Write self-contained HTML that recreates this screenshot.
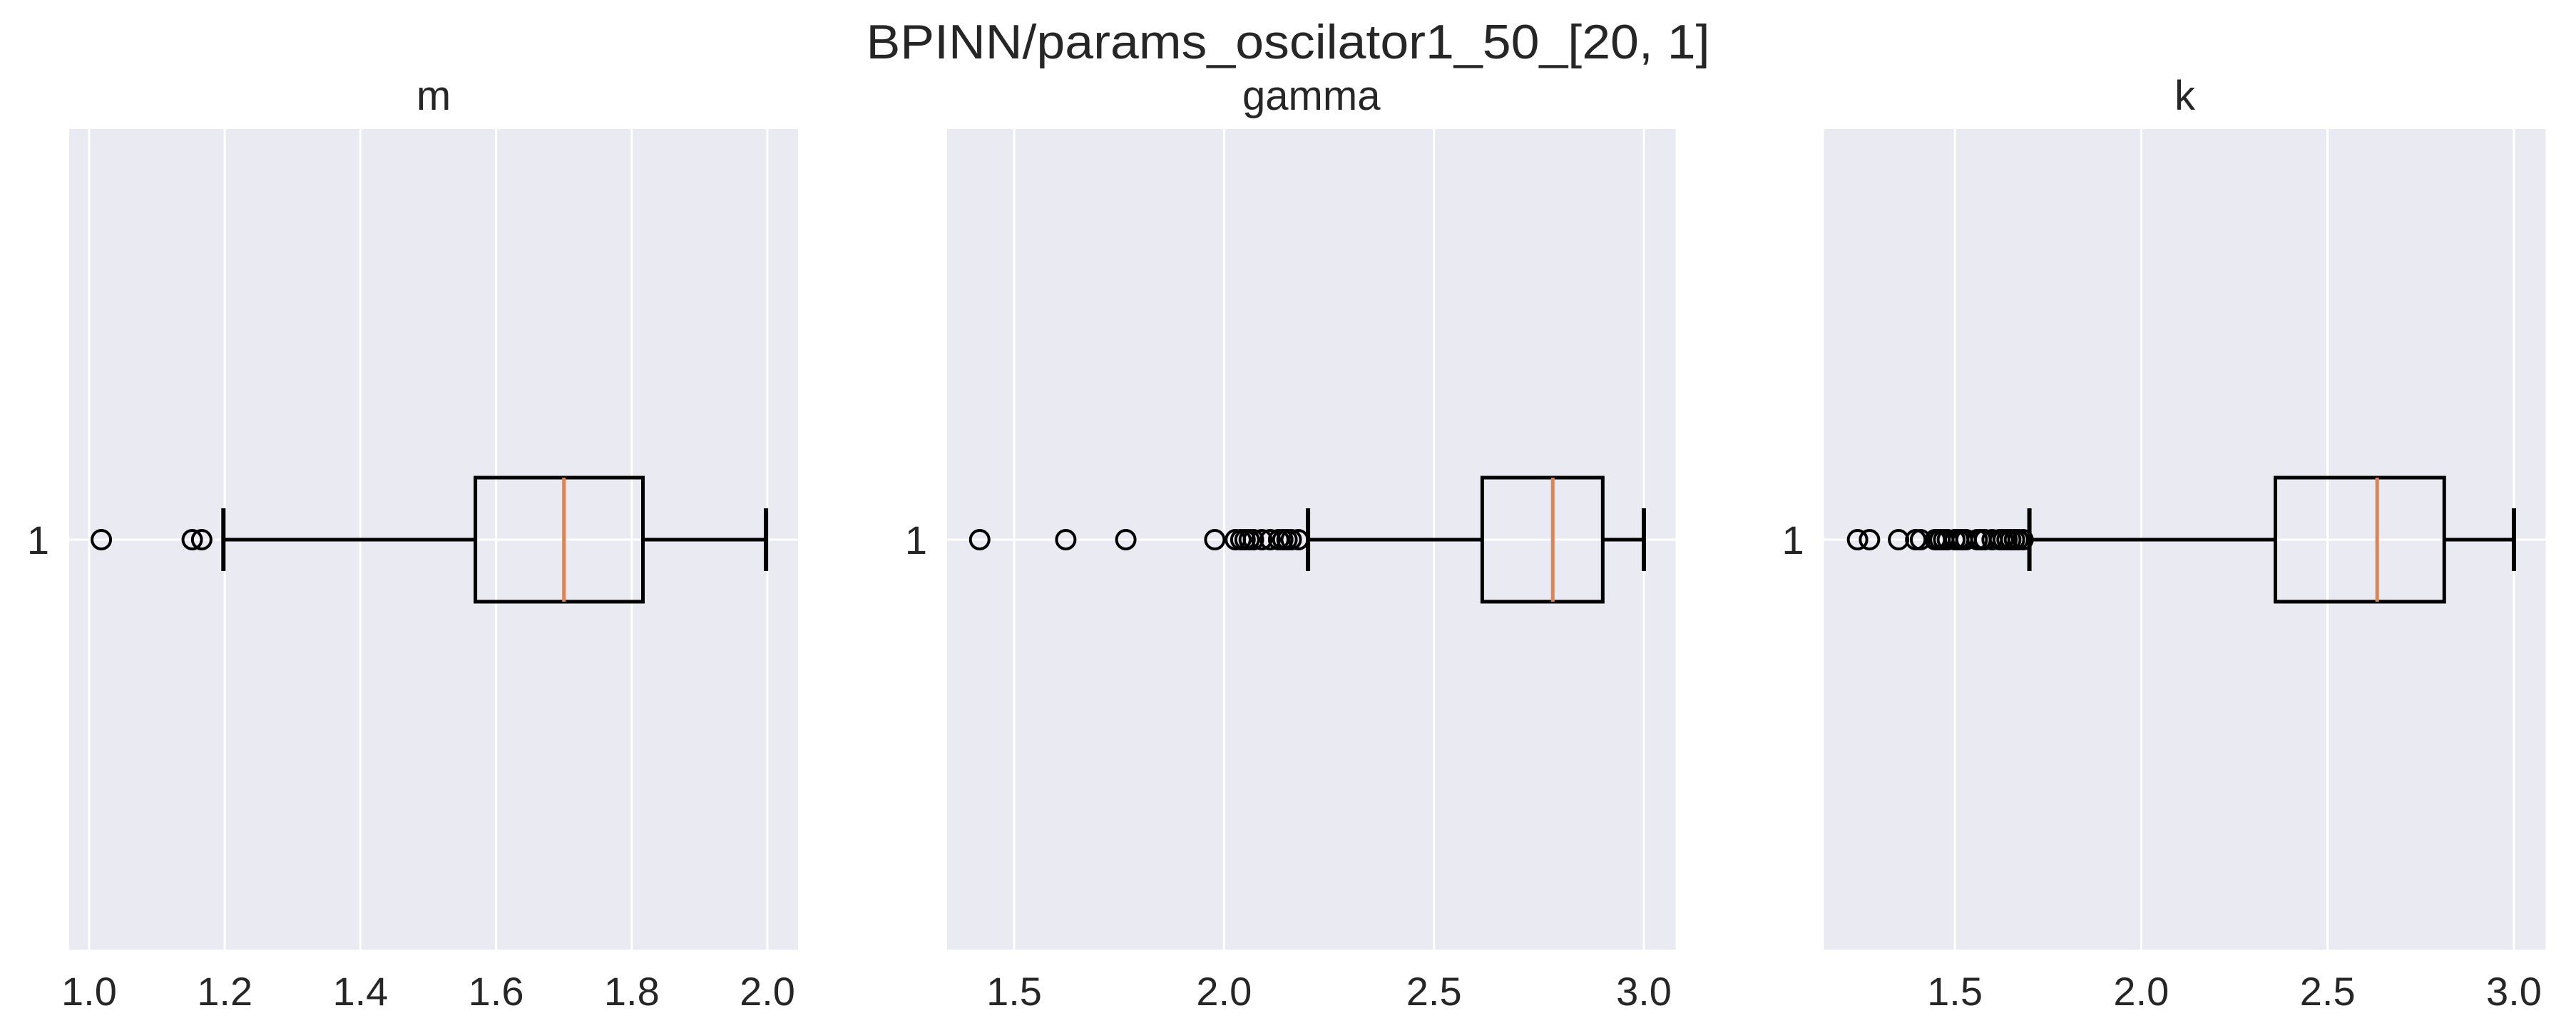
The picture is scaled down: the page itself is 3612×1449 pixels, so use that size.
<!DOCTYPE html>
<html><head><meta charset="utf-8"><style>
html,body{margin:0;padding:0;background:#fff;}
svg{display:block;}
text{font-family:"Liberation Sans",Arial,sans-serif;fill:#262626;}
</style></head>
<body>
<svg id="fig" width="3612" height="1449" viewBox="0 0 3612 1449" xmlns="http://www.w3.org/2000/svg">
<text x="1806" y="82" font-size="68" text-anchor="middle" textLength="1183" lengthAdjust="spacingAndGlyphs">BPINN/params_oscilator1_50_[20, 1]</text>
</svg>
<script>
// ---- data ----
const panelTitles = ["m", "gamma", "k"];
const q1Values = [1.5695, 2.615, 2.360];
const medianValues = [1.700, 2.783, 2.633];
const q3Values = [1.8165, 2.902, 2.813];
const whiskerLow = [1.198, 2.200, 1.700];
const whiskerHigh = [1.998, 3.000, 3.000];
const outliersM = [1.018, 1.152, 1.166];
const outliersGamma = [1.418, 1.623, 1.766, 1.978, 2.027, 2.04, 2.05, 2.06, 2.07, 2.09, 2.11, 2.13, 2.14, 2.15, 2.16, 2.177];
const outliersK = [1.239, 1.271, 1.349, 1.395, 1.408, 1.447, 1.45, 1.46, 1.47, 1.48, 1.50, 1.51, 1.52, 1.53, 1.56, 1.57, 1.58, 1.60, 1.62, 1.63, 1.64, 1.65, 1.66, 1.67, 1.683];
const tickLabelsM = ["1.0", "1.2", "1.4", "1.6", "1.8", "2.0"];
const tickLabelsGamma = ["1.5", "2.0", "2.5", "3.0"];
const tickLabelsK = ["1.5", "2.0", "2.5", "3.0"];
const xDomains = [[0.9706, 2.0452], [1.3403, 3.0756], [1.149, 3.085]];

// ---- layout ----
const NS = "http://www.w3.org/2000/svg";
const svg = document.getElementById("fig");
const panels = [[97, 1119], [1328, 2349.5], [2557.6, 3569.4]];
const axTop = 181, axBottom = 1332, cy = 757, boxH = 174, capH = 88;
const allOutliers = [outliersM, outliersGamma, outliersK];
const allTicks = [tickLabelsM, tickLabelsGamma, tickLabelsK];
const names = ["m", "gamma", "k"];

function mk(tag, attrs, parent) {
  const e = document.createElementNS(NS, tag);
  for (const k in attrs) e.setAttribute(k, attrs[k]);
  (parent || svg).appendChild(e);
  return e;
}

for (let p = 0; p < 3; p++) {
  const [L, R] = panels[p];
  const [d0, d1] = xDomains[p];
  const x = v => L + (v - d0) / (d1 - d0) * (R - L);
  const g = mk("g", {});
  
  
  const bg = mk("rect", {x: L, y: axTop, width: R - L, height: axBottom - axTop, fill: "#eaeaf2"}, g);
  
  
  allTicks[p].forEach(t => {
    const v = parseFloat(t);
    const gl = mk("line", {x1: x(v), x2: x(v), y1: axTop, y2: axBottom, stroke: "#fff", "stroke-width": 3}, g);
    
    
    const tl = mk("text", {x: x(v), y: 1410, "font-size": 56, "text-anchor": "middle"}, g);
    tl.textContent = t;
    
    
  });
  const hg = mk("line", {x1: L, x2: R, y1: cy, y2: cy, stroke: "#fff", "stroke-width": 3}, g);
  
  
  const yl = mk("text", {x: L - 28, y: cy + 20, "font-size": 56, "text-anchor": "end"}, g);
  yl.textContent = "1";
  
  
  const tt = mk("text", {x: (L + R) / 2, y: 154, "font-size": 58, "text-anchor": "middle"}, g);
  tt.textContent = panelTitles[p];
  
  
  const w1 = mk("line", {x1: x(whiskerLow[p]), x2: x(q1Values[p]), y1: cy, y2: cy, stroke: "#000", "stroke-width": 5}, g);
  
  
  const w2 = mk("line", {x1: x(q3Values[p]), x2: x(whiskerHigh[p]), y1: cy, y2: cy, stroke: "#000", "stroke-width": 5}, g);
  
  
  const c1 = mk("line", {x1: x(whiskerLow[p]), x2: x(whiskerLow[p]), y1: cy - capH / 2, y2: cy + capH / 2, stroke: "#000", "stroke-width": 6}, g);
  
  
  const c2 = mk("line", {x1: x(whiskerHigh[p]), x2: x(whiskerHigh[p]), y1: cy - capH / 2, y2: cy + capH / 2, stroke: "#000", "stroke-width": 6}, g);
  
  
  const box = mk("rect", {x: x(q1Values[p]), y: cy - boxH / 2, width: x(q3Values[p]) - x(q1Values[p]), height: boxH, fill: "none", stroke: "#000", "stroke-width": 5}, g);
  
  
  const md = mk("line", {x1: x(medianValues[p]), x2: x(medianValues[p]), y1: cy - boxH / 2, y2: cy + boxH / 2, stroke: "#dd8452", "stroke-width": 5}, g);
  
  
  allOutliers[p].forEach(v => {
    const c = mk("ellipse", {cx: x(v), cy: cy, rx: 13, ry: 13, fill: "none", stroke: "#000", "stroke-width": 4}, g);
    
    
  });
}
</script>
</body></html>
